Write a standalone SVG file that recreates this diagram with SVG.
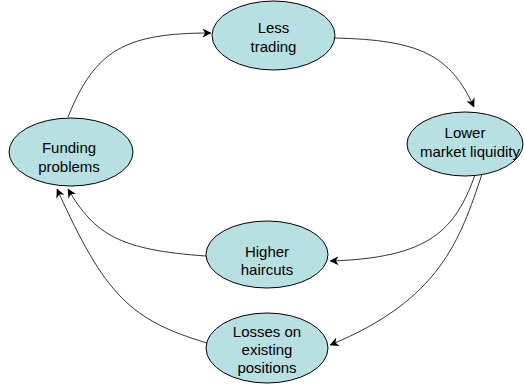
<svg xmlns="http://www.w3.org/2000/svg" width="524" height="385" viewBox="0 0 524 385">
  <style>
    .node ellipse { fill: #b8e0e3; stroke: #000; stroke-width: 1; }
    .node text { font-family: "Liberation Sans", Arial, sans-serif; font-size: 15px; fill: #000; text-anchor: middle; }
    .conn path { fill: none; stroke: #333; stroke-width: 1; marker-end: url(#arrow); }
  </style>
  <defs>
    <marker id="arrow" viewBox="0 0 10 10" refX="9.5" refY="5" markerWidth="9" markerHeight="9" markerUnits="userSpaceOnUse" orient="auto">
      <path d="M0,0 L10,5 L0,10 L3,5 z" fill="#000"/>
    </marker>
  </defs>
  <rect width="524" height="385" fill="#fff"/>
  <g id="connectors" class="conn">
    <path d="M68,117 C 95,50 125,33 211,33"/>
    <path d="M335,38 C 420,40 450,55 474,107"/>
    <path d="M475,175 C 455,230 430,258 330,261"/>
    <path d="M482,174 C 460,240 440,300 330,345"/>
    <path d="M206,256 C 120,250 95,235 68,189"/>
    <path d="M207,343 C 130,320 105,295 57,189"/>
  </g>
  <g id="less-trading" class="node">
    <ellipse cx="273.5" cy="35.5" rx="61.5" ry="34.5"/>
    <text x="273.5" y="32.7">Less</text>
    <text x="273.5" y="51.5">trading</text>
  </g>
  <g id="funding-problems" class="node">
    <ellipse cx="71" cy="152" rx="62" ry="34"/>
    <text x="69" y="153.3">Funding</text>
    <text x="69" y="171.5">problems</text>
  </g>
  <g id="lower-market-liquidity" class="node">
    <ellipse cx="465" cy="144" rx="58" ry="32"/>
    <text x="465" y="138.3">Lower</text>
    <text x="470" y="156.7">market liquidity</text>
  </g>
  <g id="higher-haircuts" class="node">
    <ellipse cx="267" cy="254.5" rx="61" ry="33.5"/>
    <text x="267" y="256.7">Higher</text>
    <text x="267" y="275">haircuts</text>
  </g>
  <g id="losses-existing-positions" class="node">
    <ellipse cx="267" cy="348" rx="61" ry="35"/>
    <text x="267" y="336.7">Losses on</text>
    <text x="267" y="355">existing</text>
    <text x="267" y="373.3">positions</text>
  </g>
</svg>
